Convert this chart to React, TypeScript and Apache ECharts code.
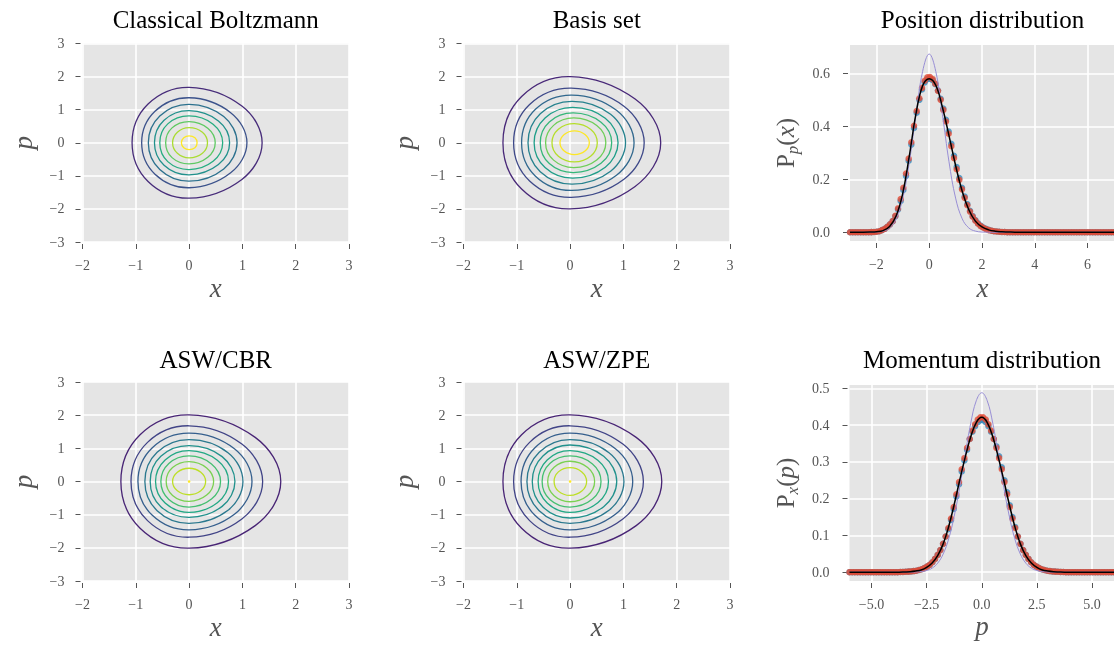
import React, { useEffect, useRef } from "react";
import * as echarts from "echarts";

const FONT = '"Liberation Serif", "Times New Roman", serif';
const LABEL_GREY = "#555555";
const PANEL_BG = "#e5e5e5";

// Phase-space contour rings. Each ring is its upper half as [x, p] points:
// left turning point, upper-left, top, upper-right, right turning point.
// The lower half is the same ring reflected in p.
const CLASSICAL_RINGS = [
  [[-1.07, 0], [-0.77, 1.17], [0, 1.675], [0.99, 1.11], [1.37, 0]],
  [[-0.89, 0], [-0.64, 0.95], [0, 1.36], [0.78, 0.91], [1.085, 0]],
  [[-0.765, 0], [-0.55, 0.81], [0, 1.16], [0.65, 0.79], [0.9, 0]],
  [[-0.65, 0], [-0.47, 0.68], [0, 0.97], [0.55, 0.66], [0.76, 0]],
  [[-0.55, 0], [-0.4, 0.57], [0, 0.81], [0.45, 0.56], [0.63, 0]],
  [[-0.44, 0], [-0.32, 0.45], [0, 0.64], [0.35, 0.44], [0.49, 0]],
  [[-0.31, 0], [-0.22, 0.32], [0, 0.46], [0.25, 0.32], [0.345, 0]],
  [[-0.145, 0], [-0.1, 0.15], [0, 0.21], [0.11, 0.15], [0.15, 0]],
];
const BASIS_RINGS = [
  [[-1.26, 0], [-0.91, 1.4], [0, 2.0], [1.22, 1.32], [1.7, 0]],
  [[-1.06, 0], [-0.76, 1.155], [0.02, 1.65], [1.01, 1.105], [1.39, 0]],
  [[-0.91, 0], [-0.65, 1.01], [0.03, 1.44], [0.87, 0.98], [1.2, 0]],
  [[-0.79, 0], [-0.56, 0.875], [0.04, 1.25], [0.76, 0.86], [1.04, 0]],
  [[-0.675, 0], [-0.47, 0.75], [0.05, 1.07], [0.66, 0.74], [0.9, 0]],
  [[-0.56, 0], [-0.39, 0.63], [0.06, 0.9], [0.58, 0.62], [0.78, 0]],
  [[-0.46, 0], [-0.31, 0.525], [0.07, 0.75], [0.5, 0.52], [0.67, 0]],
  [[-0.34, 0], [-0.22, 0.41], [0.08, 0.58], [0.39, 0.4], [0.51, 0]],
  [[-0.19, 0], [-0.11, 0.25], [0.08, 0.36], [0.28, 0.25], [0.36, 0]],
];
const CBR_RINGS = [
  [[-1.28, 0], [-0.92, 1.41], [0, 2.01], [1.24, 1.33], [1.72, 0]],
  [[-1.09, 0], [-0.78, 1.18], [0, 1.68], [0.99, 1.13], [1.38, 0]],
  [[-0.96, 0], [-0.69, 1.02], [0, 1.46], [0.85, 0.99], [1.18, 0]],
  [[-0.83, 0], [-0.6, 0.88], [0, 1.26], [0.73, 0.87], [1.01, 0]],
  [[-0.73, 0], [-0.53, 0.76], [0, 1.08], [0.62, 0.75], [0.86, 0]],
  [[-0.63, 0], [-0.45, 0.65], [0, 0.93], [0.53, 0.64], [0.74, 0]],
  [[-0.53, 0], [-0.38, 0.54], [0, 0.77], [0.42, 0.53], [0.59, 0]],
  [[-0.43, 0], [-0.31, 0.42], [0, 0.6], [0.33, 0.41], [0.46, 0]],
  [[-0.31, 0], [-0.22, 0.28], [0, 0.4], [0.22, 0.28], [0.31, 0]],
  [[-0.012, 0], [-0.009, 0.014], [0, 0.02], [0.009, 0.014], [0.012, 0]],
];
const ZPE_RINGS = [
  [[-1.26, 0], [-0.91, 1.41], [0, 2.01], [1.24, 1.33], [1.72, 0]],
  [[-1.06, 0], [-0.76, 1.18], [0, 1.68], [0.99, 1.13], [1.375, 0]],
  [[-0.92, 0], [-0.66, 1.02], [0, 1.46], [0.85, 0.99], [1.175, 0]],
  [[-0.81, 0], [-0.58, 0.88], [0, 1.26], [0.73, 0.87], [1.01, 0]],
  [[-0.71, 0], [-0.51, 0.77], [0, 1.1], [0.63, 0.76], [0.875, 0]],
  [[-0.6, 0], [-0.43, 0.65], [0, 0.93], [0.52, 0.64], [0.72, 0]],
  [[-0.525, 0], [-0.38, 0.54], [0, 0.77], [0.42, 0.53], [0.58, 0]],
  [[-0.42, 0], [-0.3, 0.43], [0, 0.61], [0.33, 0.42], [0.46, 0]],
  [[-0.3, 0], [-0.22, 0.29], [0, 0.42], [0.22, 0.29], [0.31, 0]],
  [[-0.012, 0], [-0.009, 0.014], [0, 0.02], [0.009, 0.014], [0.012, 0]],
];

// viridis colours of the drawn levels, outermost ring first
const CLASSICAL_COLORS = ["#472c7a", "#3b528b", "#2c718e", "#21918c", "#27ad81", "#5ec962", "#aadc32", "#fde725"];
const BASIS_COLORS = ["#482878", "#3e4989", "#31688e", "#26828e", "#1f9e89", "#35b779", "#6ece58", "#b5de2b", "#fde725"];
const ASW_COLORS = ["#482475", "#414487", "#355f8d", "#2a788e", "#21918c", "#22a884", "#44bf70", "#7ad151", "#bddf26", "#fde725"];

// Position distribution: sampled points (100 samples on [-3, 7])
const POS_DOT_RANGE = [-3, 7];
const POS_RED = [
  0, 0, 0, 0, 0, 0, 0, 0, 0.0005, 0.001,
  0.002, 0.004, 0.008, 0.013, 0.021, 0.03, 0.042, 0.062, 0.09, 0.125,
  0.168, 0.222, 0.278, 0.34, 0.402, 0.458, 0.506, 0.545, 0.572, 0.585,
  0.586, 0.578, 0.561, 0.534, 0.5, 0.462, 0.418, 0.372, 0.325, 0.28,
  0.238, 0.198, 0.162, 0.13, 0.102, 0.078, 0.059, 0.044, 0.032, 0.023,
  0.017, 0.012, 0.008, 0.006, 0.004, 0.003, 0.002, 0.001, 0.001, 0,
  0, 0, 0, 0, 0, 0, 0, 0, 0, 0,
  0, 0, 0, 0, 0, 0, 0, 0, 0, 0,
  0, 0, 0, 0, 0, 0, 0, 0, 0, 0,
  0, 0, 0, 0, 0, 0, 0, 0, 0, 0,
];
const POS_BLUE = [
  0, 0, 0, 0, 0, 0, 0, 0, 0.0005, 0.001,
  0.002, 0.004, 0.008, 0.013, 0.021, 0.03, 0.042, 0.06, 0.086, 0.118,
  0.16, 0.213, 0.27, 0.331, 0.394, 0.451, 0.5, 0.539, 0.566, 0.578,
  0.58, 0.574, 0.559, 0.535, 0.504, 0.467, 0.425, 0.38, 0.334, 0.289,
  0.246, 0.205, 0.168, 0.135, 0.106, 0.081, 0.061, 0.046, 0.034, 0.025,
  0.018, 0.013, 0.009, 0.006, 0.004, 0.003, 0.002, 0.001, 0.001, 0,
  0, 0, 0, 0, 0, 0, 0, 0, 0, 0,
  0, 0, 0, 0, 0, 0, 0, 0, 0, 0,
  0, 0, 0, 0, 0, 0, 0, 0, 0, 0,
  0, 0, 0, 0, 0, 0, 0, 0, 0, 0,
];
// Position distribution: curves on a 0.25 step over [-3, 7]
const POS_CURVE_RANGE = [-3, 7];
const POS_BLACK = [
  0, 0, 0.0003, 0.001, 0.002, 0.006, 0.022, 0.062, 0.148, 0.29,
  0.448, 0.553, 0.58, 0.555, 0.472, 0.365, 0.252, 0.155, 0.085, 0.042,
  0.02, 0.009, 0.004, 0.002, 0.001, 0, 0, 0, 0, 0,
  0, 0, 0, 0, 0, 0, 0, 0, 0, 0, 0,
];
const POS_PURPLE = [
  0, 0, 0, 0.0002, 0.0009, 0.0043, 0.0163, 0.0509, 0.129, 0.266,
  0.445, 0.607, 0.673, 0.607, 0.445, 0.266, 0.129, 0.0509, 0.0163, 0.0043,
  0.0009, 0.0002, 0, 0, 0, 0, 0, 0, 0, 0,
  0, 0, 0, 0, 0, 0, 0, 0, 0, 0, 0,
];

// Momentum distribution: sampled points (100 samples on [-6, 6])
const MOM_DOT_RANGE = [-6, 6];
const MOM_RED = [
  0, 0, 0, 0, 0, 0, 0, 0, 0, 0,
  0, 0, 0, 0, 0, 0, 0, 0, 0, 0.0005,
  0.0007, 0.001, 0.0015, 0.002, 0.003, 0.004, 0.006, 0.008, 0.011, 0.015,
  0.02, 0.027, 0.036, 0.047, 0.06, 0.077, 0.097, 0.12, 0.146, 0.177,
  0.212, 0.245, 0.28, 0.31, 0.338, 0.362, 0.385, 0.402, 0.415, 0.421,
  0.421, 0.415, 0.402, 0.385, 0.362, 0.338, 0.31, 0.28, 0.245, 0.212,
  0.177, 0.146, 0.12, 0.097, 0.077, 0.06, 0.047, 0.036, 0.027, 0.02,
  0.015, 0.011, 0.008, 0.006, 0.004, 0.003, 0.002, 0.0015, 0.001, 0.0007,
  0.0005, 0, 0, 0, 0, 0, 0, 0, 0, 0,
  0, 0, 0, 0, 0, 0, 0, 0, 0, 0,
];
const MOM_BLUE = [
  0, 0, 0, 0, 0, 0, 0, 0, 0, 0,
  0, 0, 0, 0, 0, 0, 0, 0, 0, 0.0005,
  0.0007, 0.001, 0.0015, 0.002, 0.003, 0.004, 0.006, 0.008, 0.011, 0.015,
  0.02, 0.027, 0.036, 0.047, 0.06, 0.077, 0.097, 0.117, 0.142, 0.172,
  0.206, 0.239, 0.274, 0.304, 0.333, 0.362, 0.382, 0.397, 0.408, 0.413,
  0.413, 0.408, 0.397, 0.382, 0.362, 0.342, 0.315, 0.285, 0.25, 0.217,
  0.182, 0.15, 0.123, 0.097, 0.077, 0.06, 0.047, 0.036, 0.027, 0.02,
  0.015, 0.011, 0.008, 0.006, 0.004, 0.003, 0.002, 0.0015, 0.001, 0.0007,
  0.0005, 0, 0, 0, 0, 0, 0, 0, 0, 0,
  0, 0, 0, 0, 0, 0, 0, 0, 0, 0,
];
// Momentum distribution: curves on a 0.25 step over [-6, 6]
const MOM_CURVE_RANGE = [-6, 6];
const MOM_BLACK = [
  0, 0, 0, 0, 0, 0, 0, 0, 0, 0,
  0.0005, 0.0012, 0.003, 0.006, 0.013, 0.025, 0.045, 0.077, 0.124, 0.184,
  0.25, 0.313, 0.368, 0.407, 0.421, 0.407, 0.368, 0.313, 0.25, 0.184,
  0.124, 0.077, 0.045, 0.025, 0.013, 0.006, 0.003, 0.0012, 0.0005, 0,
  0, 0, 0, 0, 0, 0, 0, 0, 0,
];
const MOM_PURPLE = [
  0, 0, 0, 0, 0, 0, 0, 0, 0, 0,
  0, 0.0002, 0.0006, 0.0017, 0.0045, 0.011, 0.0245, 0.0494, 0.0906, 0.152,
  0.231, 0.32, 0.405, 0.466, 0.488, 0.466, 0.405, 0.32, 0.231, 0.152,
  0.0906, 0.0494, 0.0245, 0.011, 0.0045, 0.0017, 0.0006, 0.0002, 0, 0,
  0, 0, 0, 0, 0, 0, 0, 0, 0,
];

// Tick values for the distribution panels
const POS_X_TICKS = [-2, 0, 2, 4, 6];
const POS_Y_TICKS = [0, 0.2, 0.4, 0.6];
const MOM_X_TICKS = [-5, -2.5, 0, 2.5, 5];
const MOM_Y_TICKS = [0, 0.1, 0.2, 0.3, 0.4, 0.5];

const TITLES = ["Classical Boltzmann", "Basis set", "Position distribution", "ASW/CBR", "ASW/ZPE", "Momentum distribution"];

const GRIDS = [
  { left: 82.5, top: 43.5, width: 266.5, height: 198.5 },
  { left: 463.5, top: 43.5, width: 266.5, height: 198.5 },
  { left: 850, top: 45, width: 265, height: 196 },
  { left: 82.5, top: 382, width: 266.5, height: 199 },
  { left: 463.5, top: 382, width: 266.5, height: 199 },
  { left: 849.5, top: 385, width: 265, height: 196 },
];

const MINUS = "\u2212";
const fmtInt = (v: number) => (v < 0 ? MINUS : "") + Math.abs(Math.round(v));
const fmtOne = (v: number) => (v < -1e-9 ? MINUS : "") + Math.abs(v).toFixed(1);

function grid(values: number[], range: number[]) {
  const n = values.length;
  const step = (range[1] - range[0]) / (n - 1);
  return values.map((v, i) => [range[0] + i * step, v]);
}

function baseAxis(gridIndex: number, margin: number) {
  return {
    type: "value",
    gridIndex,
    offset: 2,
    axisLine: { show: false, onZero: false },
    axisTick: { show: true, length: 5, lineStyle: { color: LABEL_GREY, width: 1 } },
    axisLabel: { color: LABEL_GREY, fontFamily: FONT, fontSize: 14, margin },
    splitLine: { show: true, lineStyle: { color: "#ffffff", width: 1.6 } },
  };
}

function contourX(gridIndex: number) {
  const a: any = baseAxis(gridIndex, 14);
  return { ...a, min: -2, max: 3, interval: 1, axisLabel: { ...a.axisLabel, formatter: fmtInt } };
}
function contourY(gridIndex: number) {
  const a: any = baseAxis(gridIndex, 16);
  return { ...a, min: -3, max: 3, interval: 1, axisLabel: { ...a.axisLabel, formatter: fmtInt } };
}
function customAxis(gridIndex: number, min: number, max: number, ticks: number[], fmt: (v: number) => string, margin: number) {
  const a: any = baseAxis(gridIndex, margin);
  return {
    ...a,
    min,
    max,
    axisTick: { ...a.axisTick, customValues: ticks },
    axisLabel: { ...a.axisLabel, customValues: ticks, formatter: fmt },
  };
}

function ringSeries(rings: number[][][], colors: string[], gridIndex: number) {
  return {
    type: "custom",
    coordinateSystem: "cartesian2d",
    xAxisIndex: gridIndex,
    yAxisIndex: gridIndex,
    silent: true,
    data: rings.map(() => [0, 0]),
    renderItem: (params: any, api: any) => {
      const upper = rings[params.dataIndex];
      const lower = upper.slice(1, -1).reverse().map(([x, p]) => [x, -p]);
      const points = [...upper, ...lower].map((pt) => api.coord(pt));
      return {
        type: "polygon",
        shape: { points, smooth: 0.375 },
        style: { fill: "none", stroke: colors[params.dataIndex], lineWidth: 1.3 },
      };
    },
  };
}

function distributionSeries(gridIndex: number, dotRange: number[], red: number[], blue: number[], curveRange: number[], black: number[], purple: number[]) {
  return [
    {
      type: "line", xAxisIndex: gridIndex, yAxisIndex: gridIndex, data: grid(purple, curveRange),
      showSymbol: false, smooth: 0.4, lineStyle: { color: "#988ED5", width: 1 }, silent: true,
    },
    {
      type: "scatter", xAxisIndex: gridIndex, yAxisIndex: gridIndex, data: grid(blue, dotRange),
      symbolSize: 6.5, itemStyle: { color: "#348ABD" }, silent: true,
    },
    {
      type: "scatter", xAxisIndex: gridIndex, yAxisIndex: gridIndex, data: grid(red, dotRange),
      symbolSize: 6.5, itemStyle: { color: "#E24A33" }, silent: true,
    },
    {
      type: "line", xAxisIndex: gridIndex, yAxisIndex: gridIndex, data: grid(black, curveRange),
      showSymbol: false, smooth: 0.4, lineStyle: { color: "#000000", width: 1.5 }, silent: true,
    },
  ];
}

function titleText(text: string, g: any, y: number) {
  return {
    type: "text", x: g.left + g.width / 2, y, silent: true,
    style: { text, font: `25px ${FONT}`, fill: "#000", textAlign: "center", textVerticalAlign: "middle" },
  };
}
function italicName(text: string, x: number, y: number, vertical: boolean) {
  return {
    type: "text", x, y, rotation: vertical ? Math.PI / 2 : 0, silent: true,
    style: { text, font: `italic 27px ${FONT}`, fill: LABEL_GREY, textAlign: "center", textVerticalAlign: "middle" },
  };
}
function densityName(sub: string, arg: string, x: number, y: number) {
  return {
    type: "text", x, y, rotation: Math.PI / 2, silent: true,
    style: {
      text: `{r|P}{s|${sub}}{r|(}{i|${arg}}{r|)}`,
      textAlign: "center",
      textVerticalAlign: "middle",
      rich: {
        r: { fontFamily: FONT, fontSize: 25, fill: LABEL_GREY, lineHeight: 32, verticalAlign: "middle" },
        i: { fontFamily: FONT, fontStyle: "italic", fontSize: 25, fill: LABEL_GREY, lineHeight: 32, verticalAlign: "middle" },
        s: { fontFamily: FONT, fontStyle: "italic", fontSize: 17, fill: LABEL_GREY, lineHeight: 17, verticalAlign: "bottom" },
      },
    },
  };
}

function buildOption() {
  const G = GRIDS;
  return {
    animation: false,
    grid: G.map((g) => ({ ...g, show: true, backgroundColor: PANEL_BG, borderWidth: 0, containLabel: false })),
    xAxis: [
      contourX(0),
      contourX(1),
      customAxis(2, -3, 7, POS_X_TICKS, fmtInt, 14),
      contourX(3),
      contourX(4),
      customAxis(5, -6, 6, MOM_X_TICKS, fmtOne, 14),
    ],
    yAxis: [
      contourY(0),
      contourY(1),
      customAxis(2, -0.033, 0.707, POS_Y_TICKS, fmtOne, 18),
      contourY(3),
      contourY(4),
      customAxis(5, -0.024, 0.509, MOM_Y_TICKS, fmtOne, 18),
    ],
    series: [
      ringSeries(CLASSICAL_RINGS, CLASSICAL_COLORS, 0),
      ringSeries(BASIS_RINGS, BASIS_COLORS, 1),
      ringSeries(CBR_RINGS, ASW_COLORS, 3),
      ringSeries(ZPE_RINGS, ASW_COLORS, 4),
      ...distributionSeries(2, POS_DOT_RANGE, POS_RED, POS_BLUE, POS_CURVE_RANGE, POS_BLACK, POS_PURPLE),
      ...distributionSeries(5, MOM_DOT_RANGE, MOM_RED, MOM_BLUE, MOM_CURVE_RANGE, MOM_BLACK, MOM_PURPLE),
    ],
    graphic: [
      titleText(TITLES[0], G[0], 19),
      titleText(TITLES[1], G[1], 19),
      titleText(TITLES[2], G[2], 19),
      titleText(TITLES[3], G[3], 359),
      titleText(TITLES[4], G[4], 359),
      titleText(TITLES[5], G[5], 359),
      italicName("x", G[0].left + G[0].width / 2, 288, false),
      italicName("x", G[1].left + G[1].width / 2, 288, false),
      italicName("x", G[2].left + G[2].width / 2, 288, false),
      italicName("x", G[3].left + G[3].width / 2, 627, false),
      italicName("x", G[4].left + G[4].width / 2, 627, false),
      italicName("p", G[5].left + G[5].width / 2, 626, false),
      italicName("p", 23, G[0].top + G[0].height / 2, true),
      italicName("p", 404, G[1].top + G[1].height / 2, true),
      italicName("p", 23, G[3].top + G[3].height / 2, true),
      italicName("p", 404, G[4].top + G[4].height / 2, true),
      densityName("p", "x", 785, 143),
      densityName("x", "p", 785, 483),
    ],
  };
}

export default function App() {
  const ref = useRef<HTMLDivElement>(null);
  useEffect(() => {
    if (!ref.current) return;
    const chart = echarts.init(ref.current, null, { renderer: "svg" });
    chart.setOption(buildOption() as any);
    return () => chart.dispose();
  }, []);
  return <div ref={ref} style={{ position: "fixed", left: 0, top: 0, width: 1114, height: 648 }} />;
}
